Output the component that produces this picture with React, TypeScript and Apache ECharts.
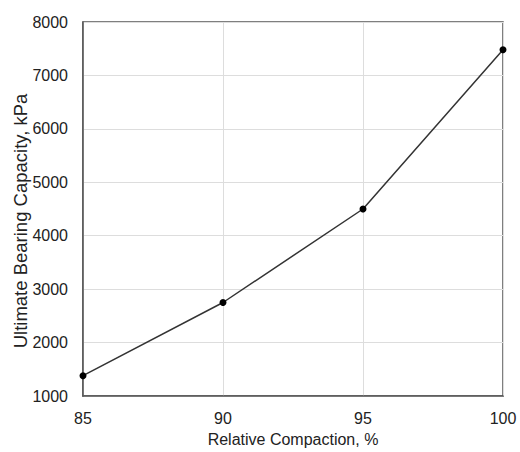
import React, { useEffect, useRef } from "react";
import * as echarts from "echarts";

const compaction = [85, 90, 95, 100];
const capacity = [1380, 2750, 4500, 7480];
const xTicks = [85, 90, 95, 100];
const yTicks = [1000, 2000, 3000, 4000, 5000, 6000, 7000, 8000];
const xTitle = "Relative Compaction, %";
const yTitle = "Ultimate Bearing Capacity, kPa";

export default function App() {
  const ref = useRef<HTMLDivElement>(null);
  useEffect(() => {
    if (!ref.current) return;
    const chart = echarts.init(ref.current, undefined, { renderer: "svg" });
    const font = "Liberation Sans, Arial, sans-serif";
    chart.setOption({
      animation: false,
      backgroundColor: "#ffffff",
      grid: { left: 83, right: 17, top: 22, bottom: 53, containLabel: false, show: true, borderColor: "#555", borderWidth: 1.5 },
      graphic: [
        {
          type: "text",
          x: 20,
          y: 221,
          rotation: Math.PI / 2,
          style: {
            text: yTitle,
            fontFamily: font,
            fontSize: 18.5,
            fill: "#222",
            align: "center",
            verticalAlign: "middle",
          },
        },
      ],
      xAxis: {
        type: "value",
        min: xTicks[0],
        max: xTicks[xTicks.length - 1],
        interval: 5,
        name: xTitle,
        nameLocation: "middle",
        nameGap: 35,
        nameTextStyle: { fontFamily: font, fontSize: 16, color: "#222" },
        axisLine: { show: true, lineStyle: { color: "#555", width: 1.5 } },
        axisTick: { show: false },
        axisLabel: { fontFamily: font, fontSize: 16, color: "#222", margin: 14 },
        splitLine: { show: true, lineStyle: { color: "#dddddd", width: 1 } },
      },
      yAxis: {
        type: "value",
        min: yTicks[0],
        max: yTicks[yTicks.length - 1],
        interval: 1000,
        axisLine: { show: true, lineStyle: { color: "#555", width: 1.5 } },
        axisTick: { show: false },
        axisLabel: { fontFamily: font, fontSize: 16, color: "#222", margin: 15, formatter: (v: number) => String(v) },
        splitLine: { show: true, lineStyle: { color: "#dddddd", width: 1 } },
      },
      series: [
        {
          type: "line",
          data: compaction.map((c, i) => [c, capacity[i]]),
          symbol: "circle",
          symbolSize: 7,
          itemStyle: { color: "#000" },
          lineStyle: { color: "#333", width: 1.5 },
          clip: false,
        },
      ],
    });
    return () => chart.dispose();
  }, []);
  return <div ref={ref} style={{ width: 520, height: 452, position: "absolute", left: 0, top: 0 }} />;
}
